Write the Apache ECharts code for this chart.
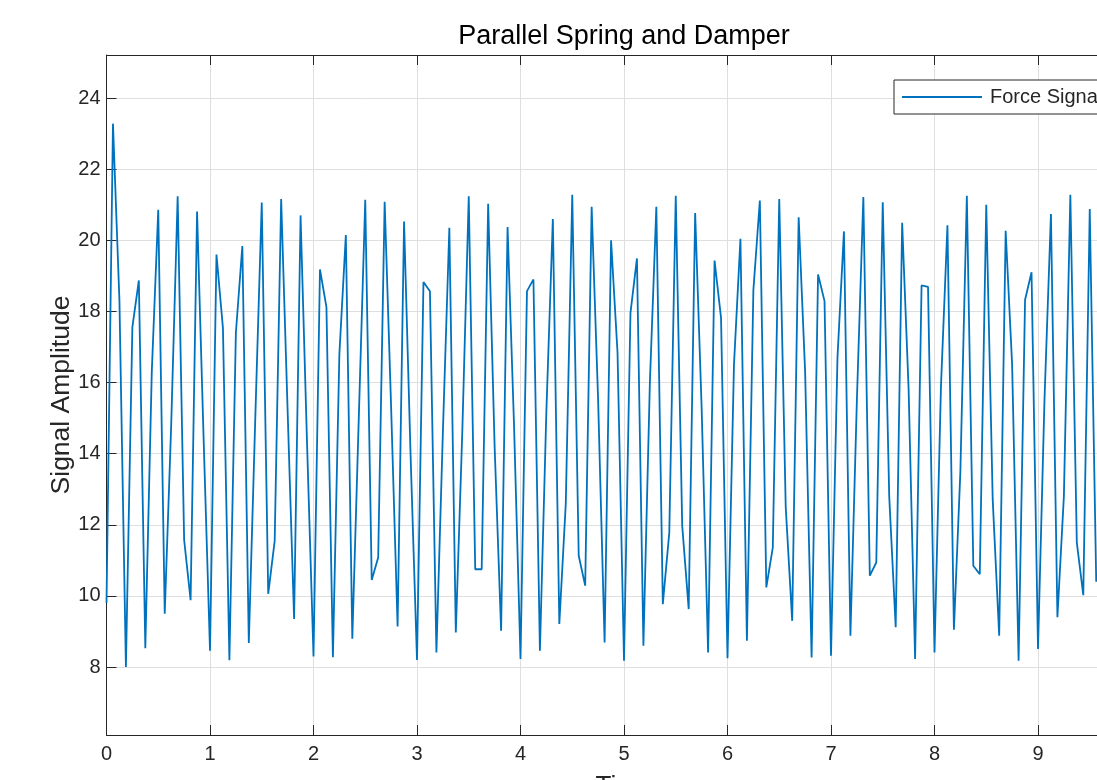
<!DOCTYPE html>
<html lang="en">
<head>
    <meta charset="UTF-8">
    <title>Parallel Spring and Damper</title>
    <script src="https://cdn.jsdelivr.net/npm/echarts@6/dist/echarts.min.js"></script>
    <style>
        html, body {
            margin: 0;
            padding: 0;
            overflow: hidden;
            background: #fff;
        }
        .box {
            width: 1248px;
            height: 830px;
        }
    </style>
</head>
<body>
<div id="show_echarts" class="box"></div>

<script>
    // sampled force signal, one value every sampleStep seconds, starting at t = 0
    var sampleStep = 0.0625
    var signal = [
        9.8, 23.28, 18.3, 8.0, 17.56, 18.87, 8.53, 16.3, 20.86, 9.5,
        14.8, 21.24, 11.58, 9.88, 20.81, 14.5, 8.46, 19.6, 17.53, 8.19,
        17.4, 19.84, 8.68, 15.0, 21.06, 10.06, 11.55, 21.16, 15.2, 9.35,
        20.7, 14.3, 8.3, 19.18, 18.12, 8.28, 16.8, 20.15, 8.8, 15.0,
        21.14, 10.45, 11.08, 21.08, 15.3, 9.14, 20.53, 14.0, 8.2, 18.83,
        18.57, 8.41, 14.6, 20.35, 8.97, 14.6, 21.24, 10.75, 10.75, 21.03,
        14.2, 9.02, 20.37, 14.8, 8.23, 18.57, 18.9, 8.46, 15.2, 20.6,
        9.21, 12.6, 21.28, 11.13, 10.29, 20.94, 15.5, 8.69, 20.0, 16.84,
        8.18, 17.96, 19.49, 8.6, 16.0, 20.94, 9.77, 11.78, 21.25, 11.97,
        9.63, 20.77, 15.3, 8.41, 19.43, 17.82, 8.25, 16.5, 20.04, 8.74,
        18.6, 21.12, 10.24, 11.36, 21.16, 12.5, 9.3, 20.65, 16.3, 8.27,
        19.04, 18.29, 8.32, 16.7, 20.25, 8.88, 15.5, 21.22, 10.57, 10.94,
        21.07, 12.8, 9.12, 20.49, 15.8, 8.23, 18.73, 18.69, 8.41, 15.9,
        20.42, 9.05, 13.5, 21.25, 10.85, 10.61, 21.0, 12.7, 8.88, 20.27,
        16.5, 8.18, 18.33, 19.1, 8.51, 15.5, 20.74, 9.4, 12.8, 21.28,
        11.5, 10.02, 20.88, 10.4
    ]
    var timeRange = [0, 10]
    var ampRange = [6.09, 25.21]

    var axisColor = '#262626'
    var gridColor = '#dfdfdf'
    var font = 'Liberation Sans, Arial, Helvetica, sans-serif'

    function show(){
        var myChart = echarts.init(document.querySelector(".box"));

        var points = []
        for (var i = 0; i < signal.length; i++) {
            points.push([i * sampleStep, signal[i]])
        }

        var option = {
            animation: false,
            backgroundColor: '#fff',
            textStyle: { fontFamily: font },
            title: {
                text: 'Parallel Spring and Damper',
                left: 'center',
                top: 23,
                padding: 0,
                textStyle: { fontSize: 27, fontWeight: 'normal', color: '#000', fontFamily: font }
            },
            legend: {
                left: 894,
                top: 80,
                padding: [7, 8, 7, 8],
                backgroundColor: '#fff',
                borderColor: axisColor,
                borderWidth: 1,
                itemWidth: 80,
                itemHeight: 2,
                textStyle: { fontSize: 20, color: axisColor, fontFamily: font, padding: [0, 0, 0, 3] },
                data: [{ name: 'Force Signal', icon: 'rect' }]
            },
            grid: {
                left: 106.5,
                right: 106.5,
                top: 55,
                bottom: 95,
                containLabel: false
            },
            xAxis: [
                {
                    type: 'value',
                    min: timeRange[0],
                    max: timeRange[1],
                    interval: 1,
                    name: 'Time',
                    nameLocation: 'middle',
                    nameGap: 39,
                    nameMoveOverlap: false,
                    nameTextStyle: { fontSize: 26, color: axisColor, fontFamily: font },
                    axisLine: { show: true, onZero: false, lineStyle: { color: axisColor, width: 1 } },
                    axisTick: { show: true, inside: true, length: 10, lineStyle: { color: axisColor } },
                    axisLabel: { fontSize: 20, color: axisColor, margin: 9, fontFamily: font },
                    splitLine: { show: true, lineStyle: { color: gridColor, width: 1 } }
                },
                {
                    type: 'value',
                    position: 'top',
                    min: timeRange[0],
                    max: timeRange[1],
                    interval: 1,
                    axisLine: { show: true, onZero: false, lineStyle: { color: axisColor, width: 1 } },
                    axisTick: { show: true, inside: true, length: 10, lineStyle: { color: axisColor } },
                    axisLabel: { show: false },
                    splitLine: { show: false }
                }
            ],
            yAxis: [
                {
                    type: 'value',
                    min: ampRange[0],
                    max: ampRange[1],
                    minInterval: 2,
                    maxInterval: 2,
                    name: 'Signal Amplitude',
                    nameLocation: 'middle',
                    nameGap: 31,
                    nameMoveOverlap: false,
                    nameTextStyle: { fontSize: 26.5, color: axisColor, fontFamily: font },
                    axisLine: { show: true, onZero: false, lineStyle: { color: axisColor, width: 1 } },
                    axisTick: { show: true, inside: true, length: 10, lineStyle: { color: axisColor } },
                    axisLabel: { fontSize: 20, color: axisColor, margin: 6, fontFamily: font, showMinLabel: false, showMaxLabel: false },
                    splitLine: { show: true, lineStyle: { color: gridColor, width: 1 } }
                },
                {
                    type: 'value',
                    position: 'right',
                    min: ampRange[0],
                    max: ampRange[1],
                    minInterval: 2,
                    maxInterval: 2,
                    axisLine: { show: true, onZero: false, lineStyle: { color: axisColor, width: 1 } },
                    axisTick: { show: true, inside: true, length: 10, lineStyle: { color: axisColor } },
                    axisLabel: { show: false },
                    splitLine: { show: false }
                }
            ],
            series: [
                {
                    name: 'Force Signal',
                    type: 'line',
                    xAxisIndex: 0,
                    yAxisIndex: 0,
                    data: points,
                    symbol: 'none',
                    showSymbol: false,
                    clip: true,
                    lineStyle: { color: '#0072BD', width: 1.8 },
                    itemStyle: { color: '#0072BD' }
                }
            ]
        };
        myChart.setOption(option);
    }
    show()
</script>
</body>
</html>
